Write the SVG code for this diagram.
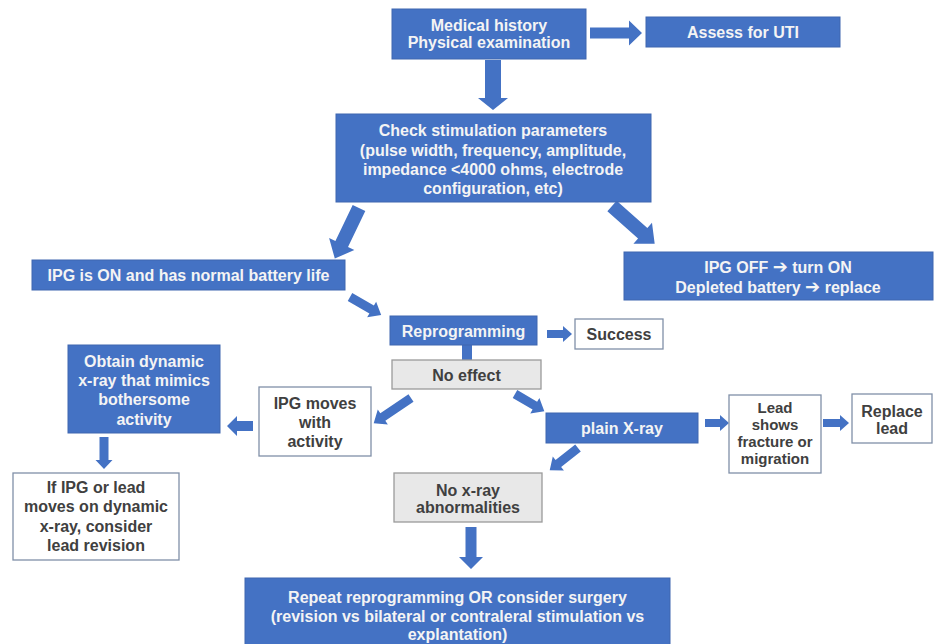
<svg xmlns="http://www.w3.org/2000/svg" width="934" height="644" viewBox="0 0 934 644">
<style>
text{font-family:"Liberation Sans",Arial,sans-serif;font-weight:bold;font-size:16px;text-anchor:middle}
.ar{font-family:"DejaVu Sans",sans-serif;font-size:18px}
.b{fill:#4472c4;stroke:#3e66b0;stroke-width:1}
.w{fill:#ffffff;stroke:#8090a8;stroke-width:1.3}
.g{fill:#e8e8e8;stroke:#9a9a9a;stroke-width:1.3}
.tb{fill:#f4f4f4}
.tw{fill:#404040}
.arr{fill:#4472c4}
</style>
<rect width="934" height="644" fill="#ffffff"/>
<g id="connectors" class="arr">
<polygon transform="translate(590,33)" points="0,-5.5 39,-5.5 39,-12.5 52,0 39,12.5 39,5.5 0,5.5"/>
<polygon transform="translate(493,60) rotate(90)" points="0,-8 38,-8 38,-15 50,0 38,15 38,8 0,8"/>
<polygon transform="translate(359,208) rotate(115.6)" points="0,-7 40,-7 40,-14 56,0 40,14 40,7 0,7"/>
<polygon transform="translate(612,206) rotate(41.5)" points="0,-7 41,-7 41,-14 57,0 41,14 41,7 0,7"/>
<polygon transform="translate(350,297) rotate(30)" points="0,-4.5 25,-4.5 25,-9 36,0 25,9 25,4.5 0,4.5"/>
<polygon transform="translate(547,334)" points="0,-4 16,-4 16,-8 25,0 16,8 16,4 0,4"/>
<rect x="462" y="345" width="10" height="16"/>
<polygon transform="translate(411,398) rotate(146)" points="0,-4.5 34,-4.5 34,-9 45,0 34,9 34,4.5 0,4.5"/>
<polygon transform="translate(515,394) rotate(30.4)" points="0,-4.5 23,-4.5 23,-9 34,0 23,9 23,4.5 0,4.5"/>
<polygon transform="translate(253,426) rotate(180)" points="0,-5 16,-5 16,-10 26,0 16,10 16,5 0,5"/>
<polygon transform="translate(104,437) rotate(90)" points="0,-4.5 23,-4.5 23,-8.5 32,0 23,8.5 23,4.5 0,4.5"/>
<polygon transform="translate(705,423)" points="0,-4 15,-4 15,-8 24,0 15,8 15,4 0,4"/>
<polygon transform="translate(823,423)" points="0,-4 17,-4 17,-8 26,0 17,8 17,4 0,4"/>
<polygon transform="translate(578,448) rotate(141.8)" points="0,-4.5 25,-4.5 25,-9 36,0 25,9 25,4.5 0,4.5"/>
<polygon transform="translate(471,527) rotate(90)" points="0,-5.5 30,-5.5 30,-12 42,0 30,12 30,5.5 0,5.5"/>
</g>
<g id="medical">
<rect class="b" x="392" y="9" width="194" height="50"/>
<text class="tb" x="489" y="30.5">Medical history</text>
<text class="tb" x="489" y="47.5">Physical examination</text>
</g>
<g id="uti">
<rect class="b" x="646" y="17" width="194" height="30"/>
<text class="tb" x="743" y="37.5">Assess for UTI</text>
</g>
<g id="check">
<rect class="b" x="336" y="114" width="315" height="88"/>
<text class="tb" x="493" y="136">Check stimulation parameters</text>
<text class="tb" x="493" y="155.5">(pulse width, frequency, amplitude,</text>
<text class="tb" x="493" y="175">impedance &lt;4000 ohms, electrode</text>
<text class="tb" x="493" y="194">configuration, etc)</text>
</g>
<g id="ipgon">
<rect class="b" x="32" y="260" width="313" height="30"/>
<text class="tb" x="188.5" y="280.5">IPG is ON and has normal battery life</text>
</g>
<g id="ipgoff">
<rect class="b" x="624" y="252" width="309" height="48"/>
<text class="tb" x="778" y="272.5">IPG OFF <tspan class="ar">➔</tspan> turn ON</text>
<text class="tb" x="778" y="292.5">Depleted battery <tspan class="ar">➔</tspan> replace</text>
</g>
<g id="reprog">
<rect class="b" x="390" y="316" width="147" height="29"/>
<text class="tb" x="463.5" y="336.5">Reprogramming</text>
</g>
<g id="success">
<rect class="w" x="575" y="319" width="88" height="30"/>
<text class="tw" x="619" y="339.5">Success</text>
</g>
<g id="noeffect">
<rect class="g" x="392" y="360" width="149" height="29"/>
<text class="tw" x="466.5" y="380.5">No effect</text>
</g>
<g id="ipgmoves">
<rect class="w" x="259" y="387" width="112" height="69"/>
<text class="tw" x="315" y="408.5">IPG moves</text>
<text class="tw" x="315" y="428">with</text>
<text class="tw" x="315" y="446.5">activity</text>
</g>
<g id="obtain">
<rect class="b" x="68" y="345" width="152" height="88"/>
<text class="tb" x="144" y="366.5">Obtain dynamic</text>
<text class="tb" x="144" y="385.5">x-ray that mimics</text>
<text class="tb" x="144" y="405">bothersome</text>
<text class="tb" x="144" y="424.5">activity</text>
</g>
<g id="ifipg">
<rect class="w" x="13" y="473" width="166" height="87"/>
<text class="tw" x="96" y="492.5">If IPG or lead</text>
<text class="tw" x="96" y="512">moves on dynamic</text>
<text class="tw" x="96" y="532">x-ray, consider</text>
<text class="tw" x="96" y="550.5">lead revision</text>
</g>
<g id="plainxray">
<rect class="b" x="546" y="413" width="152" height="30"/>
<text class="tb" x="622" y="433.5">plain X-ray</text>
</g>
<g id="leadshows">
<rect class="w" x="729" y="395" width="92" height="78"/>
<text class="tw" x="775" y="413" style="font-size:15px">Lead</text>
<text class="tw" x="775" y="430" style="font-size:15px">shows</text>
<text class="tw" x="775" y="447" style="font-size:15px">fracture or</text>
<text class="tw" x="775" y="463.5" style="font-size:15px">migration</text>
</g>
<g id="replace">
<rect class="w" x="852" y="394" width="80" height="49"/>
<text class="tw" x="892" y="416.5">Replace</text>
<text class="tw" x="892" y="434">lead</text>
</g>
<g id="noxray">
<rect class="g" x="394" y="473" width="148" height="49"/>
<text class="tw" x="468" y="495.5">No x-ray</text>
<text class="tw" x="468" y="512.5">abnormalities</text>
</g>
<g id="repeat">
<rect class="b" x="245" y="578" width="425" height="70"/>
<text class="tb" x="457.5" y="602.5">Repeat reprogramming OR consider surgery</text>
<text class="tb" x="457.5" y="622">(revision vs bilateral or contraleral stimulation vs</text>
<text class="tb" x="457.5" y="640">explantation)</text>
</g>
</svg>
